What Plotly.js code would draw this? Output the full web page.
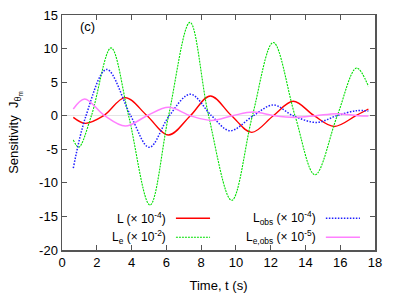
<!DOCTYPE html>
<html>
<head>
<meta charset="utf-8">
<script src="https://cdn.plot.ly/plotly-3.0.1.min.js"></script>
<style>html,body{margin:0;padding:0;background:#fff;}#chart{width:399px;height:302px;}</style>
</head>
<body>
<div id="chart"></div>
<script>
// L (x 1e-4)
const tL = [0.65, 1.34, 2.4, 3.64, 4.89, 6.13, 7.38, 8.53, 9.75, 10.91, 12.15, 13.3, 14.5, 15.65, 16.9, 17.62];
const yL = [-0.25, -1.14, 0, 2.69, 0, -2.88, 0, 2.94, 0, -2.48, 0, 2.15, 0, -1.6, 0, 1.0];
// Le (x 1e-2)
const tLe = [0.65, 0.96, 1.69, 2.82, 3.83, 5.06, 6.13, 7.36, 8.43, 9.76, 10.95, 12.15, 13.4, 14.55, 15.83, 16.94, 17.62];
const yLe = [-3.6, -4.7, 0, 10.1, 0, -13.3, 0, 13.9, 0, -12.6, 0, 10.9, 0, -8.8, 0, 7.1, 4.4];
// Lobs (x 1e-4)
const tLobs = [0.65, 1.38, 2.57, 3.95, 5.02, 6.17, 7.38, 8.6, 9.66, 11.0, 12.15, 13.3, 14.65, 15.8, 16.94, 17.62];
const yLobs = [-7.8, 0, 6.9, 0, -4.7, 0, 3.2, 0, -2.23, 0, 1.6, 0, -1.0, 0, 0.75, 0.7];
// Le,obs (x 1e-5)
const tLeobs = [0.65, 1.3, 2.45, 3.64, 4.89, 6.13, 7.38, 8.6, 9.8, 11.0, 12.2, 13.4, 14.6, 15.8, 17.0, 17.62];
const yLeobs = [1.0, 2.5, 0, -1.55, 0, 1.25, 0, -0.7, 0, 0.55, 0, -0.25, 0, 0.3, 0, -0.05];

const xTicks = [0, 2, 4, 6, 8, 10, 12, 14, 16, 18];
const yTicks = [-20, -15, -10, -5, 0, 5, 10, 15];

const legendLabels = [
  "L (× 10<sup>-4</sup>)",
  "L<sub>e</sub> (× 10<sup>-2</sup>)",
  "L<sub>obs</sub> (× 10<sup>-4</sup>)",
  "L<sub>e,obs</sub> (× 10<sup>-5</sup>)"
];
const colors = ["#ff0000", "#00e000", "#2020ff", "#ff80ff"];
const dashes = ["solid", "2px,1px", "1.5px,1.5px", "solid"];
const widths = [1.4, 1.1, 1.5, 1.5];

const series = [[tL, yL], [tLe, yLe], [tLobs, yLobs], [tLeobs, yLeobs]];
const traces = series.map((s, i) => ({
  x: s[0], y: s[1], type: "scatter", mode: "lines",
  line: {color: colors[i], dash: dashes[i], width: widths[i], shape: "spline", smoothing: 1.0},
  showlegend: false, hoverinfo: "skip"
}));

// custom gnuplot-style legend (text right-aligned, sample to the right)
const legPos = [
  {xt: 0.339, xs0: 0.364, xs1: 0.473, y: 0.135},
  {xt: 0.339, xs0: 0.364, xs1: 0.473, y: 0.054},
  {xt: 0.818, xs0: 0.843, xs1: 0.952, y: 0.135},
  {xt: 0.818, xs0: 0.843, xs1: 0.952, y: 0.054}
];
const annotations = legendLabels.map((lab, i) => ({
  xref: "paper", yref: "paper", x: legPos[i].xt, y: legPos[i].y,
  xanchor: "right", yanchor: "middle", text: lab, showarrow: false,
  font: {family: "Liberation Sans, Arial, sans-serif", size: 12, color: "#000"}
}));
annotations.push({
  xref: "paper", yref: "paper", x: 0.051, y: 0.95, xanchor: "left", yanchor: "middle",
  text: "(c)", showarrow: false,
  font: {family: "Liberation Sans, Arial, sans-serif", size: 13, color: "#000"}
});
const shapes = legendLabels.map((lab, i) => ({
  type: "line", xref: "paper", yref: "paper",
  x0: legPos[i].xs0, x1: legPos[i].xs1, y0: legPos[i].y, y1: legPos[i].y,
  line: {color: colors[i], dash: dashes[i], width: widths[i]}
}));

const font = {family: "Liberation Sans, Arial, sans-serif", size: 13, color: "#000"};
const layout = {
  width: 399, height: 302,
  margin: {l: 62, r: 24, t: 15, b: 52},
  paper_bgcolor: "#fff", plot_bgcolor: "#fff",
  font: font,
  showlegend: false,
  xaxis: {
    range: [0, 18], tickvals: xTicks, ticktext: xTicks.map(String),
    ticks: "inside", ticklen: 5, tickcolor: "#555", tickwidth: 1,
    showline: true, linecolor: "#555", linewidth: 1.5, mirror: "allticks",
    showgrid: false, zeroline: false,
    title: {text: "Time, t (s)", font: font, standoff: 12},
    automargin: false
  },
  yaxis: {
    range: [-20, 15], tickvals: yTicks, ticktext: yTicks.map(String),
    ticks: "inside", ticklen: 5, tickcolor: "#555", tickwidth: 1,
    showline: true, linecolor: "#555", linewidth: 1.5, mirror: "allticks",
    showgrid: false, zeroline: true, zerolinecolor: "#e4e4e4", zerolinewidth: 1,
    title: {text: "Sensitivity  J<sub>θ<sub>m</sub></sub>", font: font, standoff: 17},
    automargin: false
  },
  annotations: annotations,
  shapes: shapes
};
Plotly.newPlot("chart", traces, layout, {staticPlot: true, displayModeBar: false});
</script>
</body>
</html>
